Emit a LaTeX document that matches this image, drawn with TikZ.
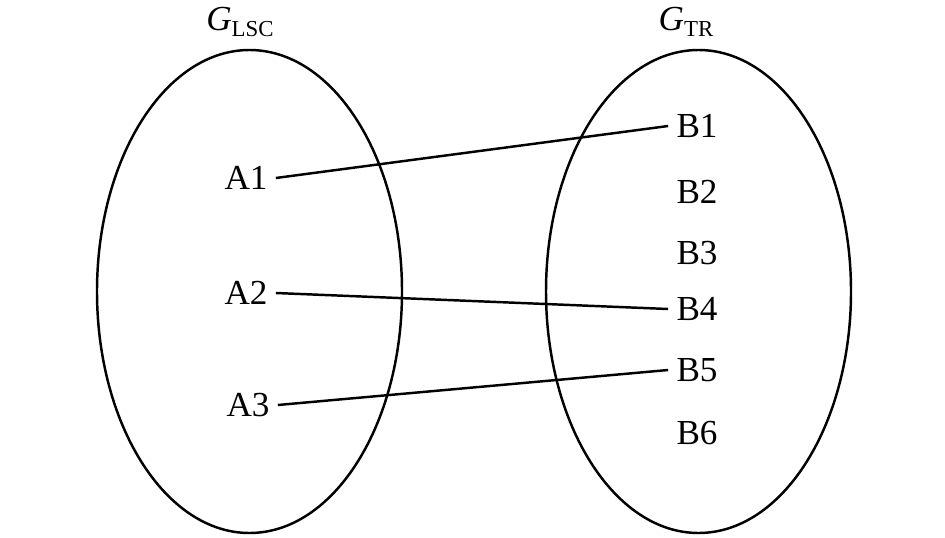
\documentclass[tikz,border=0pt]{standalone}
\usepackage{fontspec}
\setmainfont{Liberation Serif}
\tikzset{
  lbl/.style={font=\fontsize{20}{24}\selectfont, inner sep=0.16cm},
  link/.style={line width=1.4pt}
}
\begin{document}
\begin{tikzpicture}[x=0.02cm, y=-0.02cm]
  \useasboundingbox (0, 0) rectangle (945, 537);
  \draw[line width=1.4pt] (249.5, 291.5) ellipse (152.5 and 241.5);
  \draw[line width=1.4pt] (698.5, 291.5) ellipse (152.5 and 241.5);

  \node[lbl] (glsc) at (240, 22) {\textit{G}\raisebox{-0.35ex}{\fontsize{13}{15}\selectfont LSC}};
  \node[lbl] (gtr) at (686, 22) {\textit{G}\raisebox{-0.35ex}{\fontsize{13}{15}\selectfont TR}};

  \node[lbl] (a1) at (246, 178) {A1};
  \node[lbl] (a2) at (246, 293) {A2};
  \node[lbl] (a3) at (248, 405) {A3};

  \node[lbl] (b1) at (697, 126) {B1};
  \node[lbl] (b2) at (697, 192) {B2};
  \node[lbl] (b3) at (697, 253) {B3};
  \node[lbl] (b4) at (697, 309) {B4};
  \node[lbl] (b5) at (697, 370) {B5};
  \node[lbl] (b6) at (697, 433) {B6};

  \draw[link] (a1.east) -- (b1.west);
  \draw[link] (a2.east) -- (b4.west);
  \draw[link] (a3.east) -- (b5.west);
\end{tikzpicture}
\end{document}
